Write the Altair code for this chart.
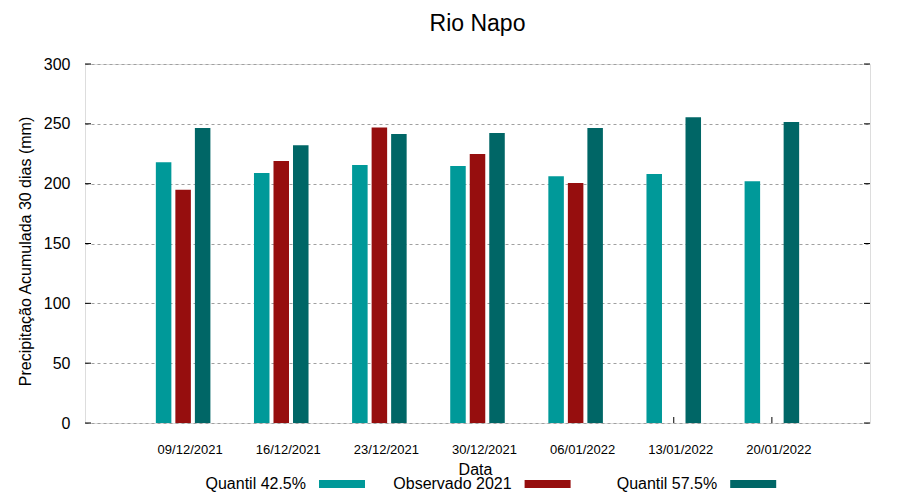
import altair as alt
import pandas as pd

dates = ["09/12/2021", "16/12/2021", "23/12/2021", "30/12/2021",
         "06/01/2022", "13/01/2022", "20/01/2022"]
series = ["Quantil 42.5%", "Observado 2021", "Quantil 57.5%"]
q425 = [218, 209, 215.5, 214.7, 206.3, 208, 202]
obs = [195, 219, 247, 224.7, 200.5, None, None]
q575 = [246.5, 232, 241.5, 242.3, 246.5, 255.6, 251.5]
colors = ["#009999", "#960e0e", "#006666"]
y_ticks = [0, 50, 100, 150, 200, 250, 300]

rows = []
for s, vals in zip(series, [q425, obs, q575]):
    for d, v in zip(dates, vals):
        if v is not None:
            rows.append({"Data": d, "Serie": s, "Valor": v})
df = pd.DataFrame(rows)
ytick_df = pd.DataFrame({"Valor": y_ticks})
xtick_df = pd.DataFrame({"Data": dates})

W, H = 785, 359
FONT = "Liberation Sans"

x_enc = alt.X(
    "Data:N",
    sort=None,
    scale=alt.Scale(domain=dates, paddingInner=0.444, paddingOuter=0.722),
    axis=alt.Axis(
        title="Data", labelAngle=0, labelFont=FONT,
        labelFontSize=13, labelColor="black", labelPadding=20, labelOffset=7,
        ticks=False, tickSize=0, domain=False, grid=False,
        titleFont=FONT, titleFontSize=16, titleFontWeight="normal",
        titleColor="black", titleBaseline="alphabetic", titleY=51, titleX=390,
    ),
)
y_enc = alt.Y(
    "Valor:Q",
    scale=alt.Scale(domain=[0, 300], nice=False),
    axis=alt.Axis(
        values=y_ticks, title="Precipitação Acumulada 30 dias (mm)",
        grid=True, gridColor="#a0a0a0", gridDash=[3, 3], gridWidth=1,
        ticks=False, tickSize=0, domain=False,
        labelFont=FONT, labelFontSize=16, labelColor="black", labelPadding=15,
        titleFont=FONT, titleFontSize=16, titleFontWeight="normal",
        titleColor="black", titleX=-55, titleY=187, titleAngle=270,
        titleAlign="center", titleBaseline="alphabetic",
    ),
)

left_ticks = alt.Chart(ytick_df).mark_rule(color="black", strokeWidth=1).encode(
    y=y_enc, x=alt.value(0), x2=alt.value(6))
right_ticks = alt.Chart(ytick_df).mark_rule(color="black", strokeWidth=1).encode(
    y=y_enc, x=alt.value(W - 6), x2=alt.value(W))
bottom_ticks = alt.Chart(xtick_df).mark_rule(color="black", strokeWidth=1).encode(
    x=x_enc, y=alt.value(H - 6), y2=alt.value(H))

bars = alt.Chart(df).mark_bar().encode(
    x=x_enc,
    xOffset=alt.XOffset("Serie:N", sort=series,
                        scale=alt.Scale(domain=series, paddingInner=0.205, paddingOuter=0)),
    y=y_enc,
    color=alt.Color(
        "Serie:N",
        scale=alt.Scale(domain=series, range=colors),
        legend=alt.Legend(
            title=None, orient="none", legendX=234, legendY=397,
            direction="horizontal", columns=3, columnPadding=25.6,
            labelAlign="right", labelOffset={"expr": "-59"}, labelFont=FONT,
            labelFontSize=16, labelColor="black", labelLimit=300,
            symbolType="M-6.8,0ZM-1,-0.174H1V0.174H-1Z", symbolSize=2116,
            symbolStrokeWidth=0, symbolOpacity=1, padding=0,
        ),
    ),
)

chart = alt.layer(left_ticks, right_ticks, bottom_ticks, bars).properties(
    width=W, height=H,
    title=alt.Title("Rio Napo", font=FONT, fontSize=23, fontWeight="normal",
                    color="black", anchor="middle", offset=20, frame="group"),
    autosize=alt.AutoSizeParams(type="none"),
    padding={"left": 77, "top": 56, "right": 22, "bottom": 69},
).configure_view(stroke="black", strokeWidth=1, fill="white").configure(background="white")

chart.save("out.html", embed_options={"renderer": "svg", "actions": False})
